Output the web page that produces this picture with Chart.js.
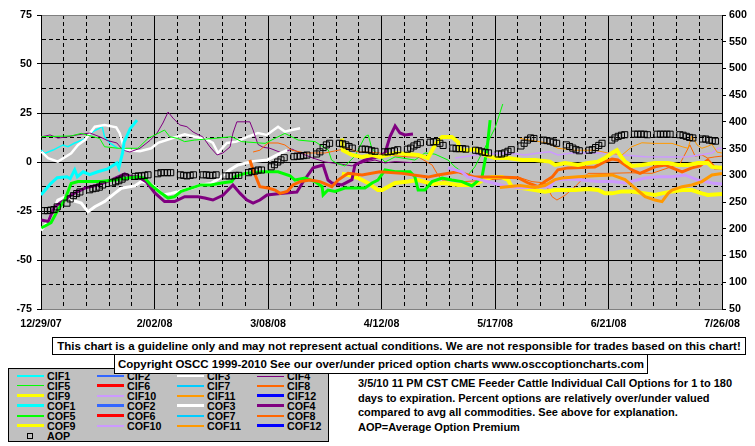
<!DOCTYPE html>
<html>
<head>
<meta charset="utf-8">
<script src="https://cdn.jsdelivr.net/npm/chart.js@4.4.1/dist/chart.umd.min.js"></script>
<style>
  body { margin: 0; background: #fff; font-family: "Liberation Sans", Arial, sans-serif; font-weight: bold; color: #000; }
  #wrap { position: relative; width: 755px; height: 446px; overflow: hidden; }
  #chart { position: absolute; left: 0; top: 0; }
  .box { position: absolute; background: #fff; border: 1px solid #000; box-sizing: border-box; font-size: 11.5px; text-align: center; white-space: nowrap; }
  #disc { left: 52px; top: 337px; width: 694px; height: 18px; line-height: 16px; }
  #copy { left: 114px; top: 354px; width: 534px; height: 20px; line-height: 18px; }
  #legend { position: absolute; left: 8px; top: 368px; width: 321px; height: 74px; background: #c0c0c0; border: 1px solid #000; box-sizing: border-box; }
  .item { position: absolute; font-size: 10.7px; line-height: 10px; white-space: nowrap; color: #000; }
  .swatch { position: absolute; }
  #note { position: absolute; left: 358px; top: 376px; font-size: 11px; line-height: 14.7px; white-space: nowrap; }
</style>
</head>
<body>
<div id="wrap">
  <canvas id="chart" width="755" height="330"></canvas>
  <div id="legend"></div>
  <div class="box" id="disc">This chart is a guideline only and may not represent actual conditions. We are not responsible for trades based on this chart!</div>
  <div class="box" id="copy">Copyright OSCC 1999-2010 See our over/under priced option charts www.osccoptioncharts.com</div>
  <div id="note">3/5/10 11 PM CST CME Feeder Cattle Individual Call Options for 1 to 180<br>days to expiration. Percent options are relatively over/under valued<br>compared to avg all commodities. See above for explanation.<br>AOP=Average Option Premium</div>
</div>
<script>
// x = days after 12/29/07, one label every 35 days
const dateLabels = ['12/29/07', '2/02/08', '3/08/08', '4/12/08', '5/17/08', '6/21/08', '7/26/08'];

// percent series (left axis), [day, value]
const cif1 = [[0.1,6.1],[1.1,4.4],[3.7,6.1],[6.8,8.7],[8.3,7.8],[10.4,9.7],[13.5,11.7],[16,15.5],[18.1,17.3],[18.8,18.4],[19.6,12.9],[21.2,9.7],[23.7,7]];
const cof1 = [[0,-16.8],[3,-11],[5,-8],[8,-7.5],[9,-8.5],[10.4,-4],[11.2,-7.5],[13,-5],[15,-6.5],[17.5,-5],[20.6,-3.5],[23.4,-0.5],[24,-3],[25.2,5],[25.6,10],[27.5,17],[29.6,21.4]];
const cif3 = [[0.1,5.3],[2.2,2],[5.2,0.2],[9.3,4.4],[11.4,8.7],[13.5,11.2],[16.6,18],[19.6,18.9],[23.2,17.7],[24.3,14.6],[25.8,6.1],[30.5,5.5],[34,7],[36.1,9.8],[40.2,12],[44.3,14.1],[47.4,12.9],[50.6,12],[53,9.7],[54.6,4.6],[57.3,9.7],[60.3,10.4],[63.8,12.9],[66.9,14.8],[69.6,13.8],[73.1,18],[75.2,15.5],[77.3,16.3],[79.9,17.2]];
const cof3 = [[0,-35],[2.2,-30],[4,-24],[5.2,-19.4],[7.1,-18],[9.3,-19.4],[12.4,-21],[14.5,-25.4],[16.6,-22.8],[19.6,-20.2],[22.7,-16],[24.8,-13.4],[28.9,-12.2],[30.9,-10],[32.7,-10.5],[35.1,-12.6],[37.6,-16.8],[40.2,-16],[46.3,-13.4],[49.4,-11.7],[52.5,-10.9],[55.2,-8],[58.3,-4],[60.7,-1.5],[65,0.2],[69.7,1],[72.8,3.6],[75.9,6]];
const cif4 = [[0,12.8],[2.8,13.8],[5.2,12.2],[8,12.8],[11.1,13.8],[15.1,14.8],[18.2,12.8],[20.4,11],[23.4,9.7],[25.3,6],[27.4,5.1],[30.5,7],[33.6,11],[35.8,14.8],[37.6,19.9],[39.2,25.5],[40.7,22.4],[42.8,18.9],[45,18],[46.9,15.3],[49.9,12.8],[52.1,7.7],[54.3,3.6],[56.1,4.6],[58.3,7.7],[59.2,14.8],[60.4,20.5],[64.4,20.5],[65.4,16.3],[66.9,9],[68.5,7.5],[70.6,7],[74.3,4.6],[77.4,6.6],[79.9,4.6],[83.9,2],[87.6,0],[92.2,-1],[95.9,-2],[99.9,0],[103,1],[106.1,-0.5],[109.2,0.2],[114.4,-0.3]];
const cof4 = [[0.1,-29.6],[2.2,-30.4],[4.2,-22.8],[7.3,-19.4],[9.3,-16.8],[13.5,-13.3],[17.6,-11.7],[21.6,-9.2],[25.8,-6.1],[27.8,-7.5],[29.9,-7.5],[32.4,-10],[35.1,-15.8],[38.1,-20.2],[41.2,-20.2],[44.3,-17.7],[48.4,-17.7],[50.5,-18.4],[53,-19.4],[56.1,-17],[59.2,-11.7],[61.4,-16],[63.5,-19.4],[65.4,-21],[67.5,-19.4],[69.7,-16.8],[74.6,-16],[78.9,-15.3],[80.8,-10.2],[83.9,-3],[87,-1.5],[88.5,-9.2],[89.7,-10.7],[92.8,-11.7],[95.9,-9],[96.8,-1.5],[99.9,1],[103.9,2.6],[106.1,4.6],[107.6,12.8],[109.2,18.4],[110.7,14.8],[112.2,13.8],[114.7,14.3]];
const cif5 = [[0.1,12.9],[9.3,13.3],[12.4,14.6],[18.1,12],[19.6,7.8],[23.7,7],[29.9,7],[33,12],[36.1,14.6],[38.1,16.3],[39.7,12.9],[42.2,12],[44.3,10.4],[47.4,11.2],[53,12],[58.8,12.9],[61.9,10.4],[69.1,9.5],[75.2,14.6],[79.3,11.2],[84.5,10.4],[88.6,6.1],[89.6,1],[91.2,-0.7],[93.7,-2],[96.8,3],[99.9,12.9],[100.9,13.8],[102,7],[104,3.6],[106.1,0],[109.2,2.6],[115.3,1],[118.4,4.6],[121.5,4],[125.5,1],[127.7,-2.5],[129.8,-5],[131.7,-6.6],[133.8,-2.5],[136,4.6],[137.8,10.2],[140,17.3],[141.5,25],[142.4,29.6]];
const cof5 = [[0.1,-33.7],[3.1,-31],[5.2,-24.5],[7.3,-19.4],[9.3,-11],[11.4,-10],[14.5,-10],[18.5,-10],[22.7,-9.2],[26.8,-8.2],[29.9,-7.7],[32,-8.2],[33.9,-11.7],[37,-15.8],[39.2,-18.4],[41.2,-17.7],[43.2,-15],[46.3,-13.3],[49.3,-11.7],[52.4,-11.7],[55.7,-10.7],[58.8,-10],[59.8,-7.5],[62.9,-5.8],[68.1,-5],[73.1,-5],[76.8,-7],[78.3,-9.2],[81.4,-8.2],[84.5,-10],[86.7,-12.6],[87,-16.8],[88.5,-14.3],[90.7,-15],[93.7,-13.3],[99.9,-13.3],[102.1,-10.7],[103.9,-9.2],[106.1,-4],[109.2,-5],[113.8,-5],[115.3,-7.5],[116.3,-14.3],[118.4,-14.3],[120.6,-10],[123.7,-8.2],[126.7,-9.2],[129.8,-10],[132.9,-12.2],[136,-7.7],[137.5,6],[138.5,21.4]];
const cif8 = [[65.4,5.1],[67.5,6],[70,9.7],[73.1,9.7],[75.2,8.7],[77.4,6],[81.4,4.6],[87.6,4.6],[91.6,6],[94.7,7],[97.8,5.1],[100.5,5.1],[104.5,4.6],[106.1,3.6],[113.2,2.6],[116.3,2.6],[120.6,-1.5],[122.1,-5.8],[123.7,-9.2],[126.7,-9.2],[130.8,-10],[138.5,-9],[147.7,-8],[151.4,-10],[155.4,-10.7],[157.6,-17.7],[159.1,-19.4],[161.6,-17],[164.7,-12.6],[168.7,-5.8],[174.8,-5.8],[181.6,-5.5],[188.4,-5.8],[193.4,-3],[197,-1],[200.1,8.7],[201.7,3],[203.8,3.6],[205.6,2],[207.8,2.6],[210,3]];
const cof8 = [[64.4,1],[65.4,-4],[67.5,-12.6],[70,-13.3],[72.2,-14.3],[73.7,-16],[75.9,-15],[77.7,-11.7],[79.9,-10],[83,-9.2],[86,-10],[89.7,-12.6],[91.6,-9.2],[94.7,-5.8],[99,-6.6],[104.5,-5],[111.3,-5.8],[119.3,-7.7],[122.4,-6.6],[128.6,-5],[133.8,-7.7],[140.9,-7.7],[147.1,-8],[150.2,-10.7],[153.3,-12.6],[155.4,-10],[157.6,-7.7],[159.4,-4],[162.5,-3],[170.8,-2.5],[173.9,0.2],[176.1,1.5],[177.9,1],[180.1,-1.5],[182.2,-4],[184.7,-5.8],[189.3,-2.5],[192.4,-1.5],[194.6,-3],[197.7,-5],[200.7,-3],[203.2,-2],[205.6,1],[207.8,-3],[210,-3]];
const cif9 = [[92.8,-6],[94.7,-6.6],[97.8,-8.2],[100.8,-10.7],[103.9,-14.3],[105.2,-14.3],[109.2,-10.7],[113.2,-10],[116.3,-9.2],[120.6,-11.2],[124.6,-10.7],[128.6,-11.7],[132.9,-11.7],[134.8,-10.7],[136.3,-9.2],[139.1,-7.7],[142.2,-7.7],[144,-9.2],[145.2,-12.6],[148.3,-13.3],[152.3,-14.3],[155.4,-15.2],[158.5,-14.3],[164.7,-14.3],[168.7,-13.8],[171.8,-14.3],[173.9,-16],[176.1,-16],[179.2,-15],[182.2,-15],[186.3,-16],[189.3,-16.8],[191.5,-16],[194.6,-15],[197.7,-14.3],[200.7,-14.3],[203.8,-16],[205.6,-16.8],[210,-16.3]];
const cof9 = [[92.8,12],[93.1,6],[95.9,3.6],[99,2.6],[102.1,3.6],[104.5,2.6],[109.2,4.6],[116.3,3.6],[119.3,2],[122.1,10.2],[123.7,12.8],[126.7,12.8],[128.6,10.2],[129.2,6],[131.7,6],[133.8,6.6],[136.9,3.6],[140,2],[144,2],[148.3,1],[152.3,1],[156.9,0.2],[158.5,-1.5],[161.6,-0.5],[165.6,-1.5],[168.7,-0.5],[171.8,0.2],[173.9,2],[176.1,4.6],[177.6,6],[178.5,3.6],[180.1,0.2],[182.2,-2],[185.3,-1.5],[189.3,-0.5],[193.4,-0.5],[196.4,-1.5],[199.5,-1.5],[202.6,-0.5],[205.6,-0.5],[206.9,-2.5],[210,-3]];
const cif10 = [[127.7,2],[135.7,4],[144,4.6],[149.3,3.6],[153.3,4.6],[157,5.2],[159.4,3.6],[163.7,4.6],[170.8,4.6],[174.8,4.6],[179.2,3.6],[186.3,2.7],[194.6,2.5],[199.5,2.7],[206.9,4.6],[208.8,7],[210,7]];
const cof10 = [[125.5,-3],[129.8,-5],[131.7,-7.7],[135.4,-9],[140,-11],[144,-12.6],[148.3,-13.3],[154.5,-12.6],[157,-12.6],[158.5,-9.2],[163.7,-8.7],[171.8,-10],[176.1,-10],[180.1,-10.7],[186.3,-8.2],[190.3,-7.5],[194.6,-7.5],[198.6,-6.6],[202.6,-9.2],[206.9,-10.7],[210,-11.2]];
const cif11 = [[147.7,12],[151.4,11],[156.3,9.7],[159.4,7],[164.7,6],[170.8,6],[174.8,4.6],[179.2,3.6],[182.2,7.8],[185.3,9.8],[189.3,9.5],[194.6,9.5],[197.7,7.8],[199.5,7],[200.7,13.3],[202.3,8.7],[203.8,7],[205.6,8],[206.9,9],[208.5,5],[210,4.6]];
const cof11 = [[141.5,-13],[147.7,-12],[152.3,-13],[155.4,-12],[158.5,-9],[160.7,-8.2],[165.6,-7.5],[170.8,-7],[176.1,-6.6],[180.1,-9],[183.2,-13.3],[186.3,-17.7],[189.3,-19.4],[191.5,-20.2],[193.4,-16],[194.6,-14.3],[197.7,-12.6],[200.7,-11.7],[203.8,-10],[206.9,-6.6],[210,-5.8]];

// average option premium (right axis), five trading days per week
const aopValues = [
  234, 234, 235, 236, 241,
  248, 256, 262, 266, 269,
  273, 275, 276, 278, 282,
  286, 288, 290, 293, 297,
  298, 299, 299, 300, 301,
  303, 305, 305, 305, 305,
  301, 300, 299, 300, 301,
  301, 301, 300, 300, 301,
  299, 299, 299, 300, 300,
  305, 307, 308, 310, 310,
  316, 320, 325, 329, 333,
  335, 336, 336, 337, 338,
  340, 344, 352, 357, 360,
  360, 359, 357, 354, 351,
  349, 349, 348, 346, 345,
  344, 344, 345, 346, 348,
  349, 351, 355, 358, 361,
  362, 363, 363, 360, 356,
  351, 350, 350, 350, 349,
  347, 346, 344, 343, 342,
  340, 340, 342, 345, 348,
  355, 360, 366, 370, 369,
  366, 365, 364, 362, 360,
  357, 354, 351, 348, 346,
  347, 348, 352, 356, 360,
  366, 370, 373, 375, 376,
  377, 377, 377, 377, 376,
  377, 377, 377, 377, 377,
  376, 375, 373, 371, 370,
  368, 368, 366, 365, 364
];
const aopDays = aopValues.map((v, i) => Math.floor(i / 5) * 7 + (i % 5) + 1);

const legendNames = ['CIF1','CIF2','CIF3','CIF4','CIF5','CIF6','CIF7','CIF8','CIF9','CIF10','CIF11','CIF12',
                     'COF1','COF2','COF3','COF4','COF5','COF6','COF7','COF8','COF9','COF10','COF11','COF12'];
const baseColors = ['#00FFFF','#3366FF','#FFFFFF','#800080','#00FF00','#FF0000','#00CCFF','#FF6600','#FFFF00','#CC99FF','#FF9900','#0000FF'];
const legendColors = baseColors.concat(baseColors);
const legendWidths = [2,2,2,1,1,3,2,2,3,2,2,3, 3,3,3,3,2,3,2,2,3,2,2,3];

// legend
const leg = document.getElementById('legend');
legendNames.forEach((name, i) => {
  const col = i % 4, row = Math.floor(i / 4);
  const cy = 7 + row * 9.95;
  const sw = document.createElement('div');
  sw.className = 'swatch';
  sw.style.cssText = 'left:' + (8 + col * 80) + 'px;top:' + Math.round(cy - legendWidths[i] / 2) + 'px;width:27px;height:' + legendWidths[i] + 'px;background:' + legendColors[i];
  leg.appendChild(sw);
  const tx = document.createElement('div');
  tx.className = 'item';
  tx.textContent = name;
  tx.style.left = (38 + col * 80) + 'px';
  tx.style.top = (cy - 5) + 'px';
  leg.appendChild(tx);
});
const aopY = 7 + 6 * 9.95;
const mk = document.createElement('div');
mk.className = 'swatch';
mk.style.cssText = 'left:18px;top:' + Math.round(aopY - 3) + 'px;width:4px;height:4px;border:1px solid #000';
leg.appendChild(mk);
const at = document.createElement('div');
at.className = 'item';
at.textContent = 'AOP';
at.style.left = '38px';
at.style.top = (aopY - 5) + 'px';
leg.appendChild(at);

function series(name, pts, width) {
  const i = legendNames.indexOf(name);
  return {
    label: name,
    data: pts.map(p => ({ x: p[0], y: p[1] })),
    borderColor: legendColors[i],
    borderWidth: width,
    pointRadius: 0,
    tension: 0,
    fill: false,
    yAxisID: 'y',
    order: 30 - i
  };
}

const plotBg = {
  id: 'plotBg',
  beforeDraw(chart) {
    const a = chart.chartArea, c = chart.ctx;
    c.save();
    c.fillStyle = '#C0C0C0';
    c.fillRect(a.left, a.top, a.right - a.left, a.bottom - a.top);
    c.restore();
  }
};

Chart.defaults.font.family = '"Liberation Sans", Arial, sans-serif';
Chart.defaults.font.weight = 'bold';
Chart.defaults.font.size = 10.7;
Chart.defaults.color = '#000';

new Chart(document.getElementById('chart'), {
  type: 'line',
  data: {
    datasets: [
      series('CIF1', cif1, 1.5),
      series('CIF3', cif3, 2.5),
      series('CIF4', cif4, 1),
      series('CIF5', cif5, 1),
      series('CIF8', cif8, 1),
      series('CIF9', cif9, 4),
      series('CIF10', cif10, 1.5),
      series('CIF11', cif11, 1),
      series('COF1', cof1, 3),
      series('COF3', cof3, 3),
      series('COF4', cof4, 3),
      series('COF5', cof5, 3),
      series('COF8', cof8, 3),
      series('COF9', cof9, 4),
      series('COF10', cof10, 3),
      series('COF11', cof11, 3),
      {
        label: 'AOP',
        data: aopDays.map((d, i) => ({ x: d, y: aopValues[i] })),
        yAxisID: 'y1',
        showLine: false,
        pointStyle: 'rect',
        pointRadius: 4.3,
        pointBorderWidth: 1,
        pointBorderColor: '#000',
        pointBackgroundColor: 'rgba(0,0,0,0)',
        order: 0
      }
    ]
  },
  options: {
    responsive: false,
    animation: false,
    layout: { padding: { top: 15, left: 0, right: 0, bottom: 0 } },
    plugins: { legend: { display: false }, tooltip: { enabled: false } },
    scales: {
      x: {
        type: 'linear',
        min: 0,
        max: 210,
        ticks: {
          stepSize: 7,
          autoSkip: false,
          maxRotation: 0,
          padding: 9,
          callback: v => (v % 35 === 0 ? dateLabels[v / 35] : '')
        },
        grid: { color: '#000', drawTicks: false },
        border: { color: '#808080', dash: ctx => (ctx.tick && ctx.tick.value % 35 !== 0 ? [4, 3] : []) },
        afterFit: s => { s.height = 21; }
      },
      y: {
        position: 'left',
        min: -75,
        max: 75,
        ticks: {
          stepSize: 12.5,
          padding: 5,
          callback: v => (v % 25 === 0 ? v : '')
        },
        grid: {
          color: ctx => (ctx.tick && Math.abs(ctx.tick.value) === 75 ? '#808080' : '#000'),
          tickColor: ctx => (ctx.tick && ctx.tick.value % 25 === 0 ? '#000' : 'rgba(0,0,0,0)'),
          tickLength: 4
        },
        border: { color: '#000', dash: ctx => (ctx.tick && ctx.tick.value % 25 !== 0 ? [4, 3] : []) },
        afterFit: s => { s.width = 41; }
      },
      y1: {
        position: 'right',
        min: 50,
        max: 600,
        ticks: { stepSize: 50, padding: 3 },
        grid: { drawOnChartArea: false, tickLength: 4, tickColor: '#000' },
        border: { color: '#000' },
        afterFit: s => { s.width = 33; }
      }
    }
  },
  plugins: [plotBg]
});
</script>
</body>
</html>
